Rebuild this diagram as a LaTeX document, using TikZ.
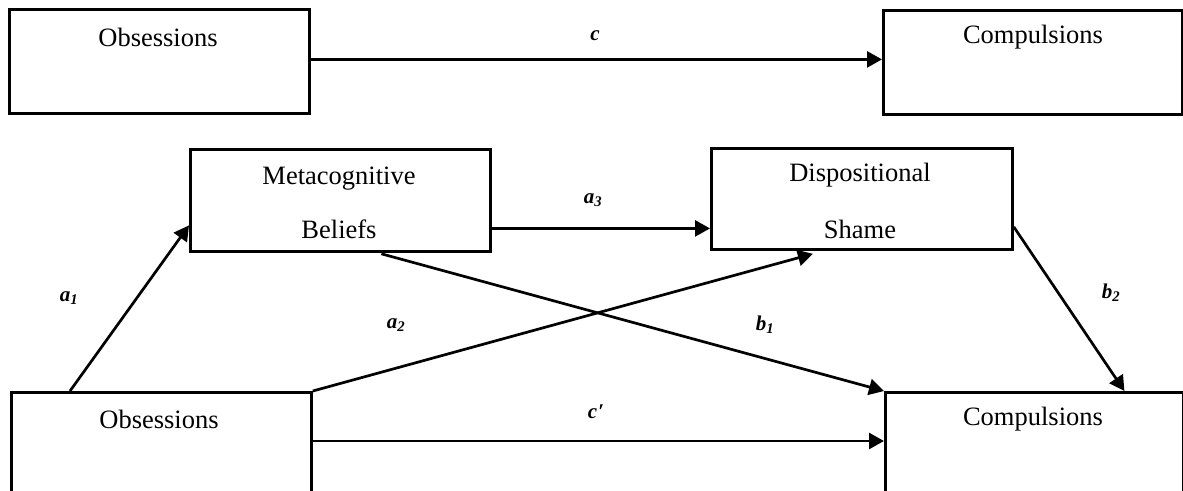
\documentclass[tikz,border=0pt]{standalone}
\usepackage{fontspec}
\setmainfont{Liberation Serif}
\usetikzlibrary{arrows.meta,calc}
\begin{document}
\begin{tikzpicture}[x=1pt,y=-1pt,
  box/.style={draw=black,line width=2.8pt,rectangle,inner sep=0pt,anchor=north west},
  txt/.style={font=\fontsize{26.5}{30}\selectfont,inner sep=0pt},
  lab/.style={font=\fontsize{21}{24}\selectfont\bfseries\itshape,inner sep=0pt},
  arr/.style={line width=2.7pt,-{Triangle[length=15pt,width=16pt]}}]
\useasboundingbox (0,0) rectangle (1183,490);
\clip (0,0) rectangle (1183,490);
% boxes
\node[box,minimum width=300pt,minimum height=104pt] (tl) at (8,8) {};
\node[box,minimum width=299pt,minimum height=104pt] (tr) at (882,9) {};
\node[box,minimum width=300pt,minimum height=102pt] (mb) at (189,148) {};
\node[box,minimum width=301pt,minimum height=101pt] (ds) at (710,147) {};
\node[box,minimum width=300pt,minimum height=120pt] (bl) at (10,391) {};
\node[box,minimum width=298pt,minimum height=120pt] (br) at (884,391) {};
% texts
\node[txt] (tlt) at (158,37) {Obsessions};
\node[txt] (trt) at (1033,37) {Compulsions};
\node[txt] (mbt1) at (339,179) {Metacognitive};
\node[txt] (mbt2) at (339,229) {Beliefs};
\node[txt] (dst1) at (860,175) {Dispositional};
\node[txt] (dst2) at (860,229) {Shame};
\node[txt] (blt) at (159,419) {Obsessions};
\node[txt] (brt) at (1033,419) {Compulsions};
% connectors
\draw[arr] ([yshift=2pt]tl.east) -- ([yshift=2pt]tl.east -| tr.west);
\draw[arr] ([yshift=-28pt]mb.east) -- ([yshift=-28pt]mb.east -| ds.west);
\draw[arr] ([xshift=60pt]bl.north west) -- ([yshift=-25pt]mb.west);
\draw[arr] (bl.north east) -- ([xshift=-49pt,yshift=-3pt]ds.south);
\draw[arr] ([xshift=41pt,yshift=-1pt]mb.south) -- (br.north west);
\draw[arr] ([yshift=-28pt]ds.east) -- ([xshift=90pt]br.north);
\draw[arr] ([yshift=-50pt]bl.north east) -- ([yshift=-50pt]bl.north east -| br.west);
% labels
\node[lab] (lc) at (595,36) {c};
\node[lab] (la3) at (593,200) {a\textsubscript{3}};
\node[lab] (la1) at (69,298) {a\textsubscript{1}};
\node[lab] (la2) at (396,325) {a\textsubscript{2}};
\node[lab] (lb1) at (765,325) {b\textsubscript{1}};
\node[lab] (lb2) at (1111,293) {b\textsubscript{2}};
\node[lab] (lcp) at (596,412) {c\kern1pt′};
\end{tikzpicture}
\end{document}
